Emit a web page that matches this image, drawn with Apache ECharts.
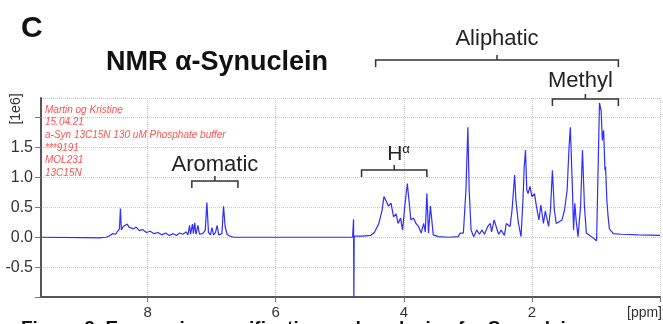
<!DOCTYPE html>
<html>
<head>
<meta charset="utf-8">
<script src="https://cdn.jsdelivr.net/npm/echarts@6/dist/echarts.min.js"></script>
<style>
html, body { margin: 0; padding: 0; background: #fff; }
#chart { width: 663px; height: 324px; }
</style>
</head>
<body>
<div id="chart"></div>
<script>
// chemical shift (ppm) and intensity ([1e6])
var shifts = [
	9.67, 9.0, 8.75, 8.65, 8.60, 8.55, 8.50, 8.47, 8.44, 8.425, 8.41, 8.38, 8.35, 8.32, 8.29, 8.26, 8.22, 8.18,
	8.13, 8.08, 8.02, 7.96, 7.90, 7.84, 7.78, 7.72, 7.66, 7.60, 7.55, 7.50, 7.45, 7.40, 7.37, 7.345, 7.33, 7.30,
	7.285, 7.265, 7.245, 7.215, 7.19, 7.14, 7.10, 7.075, 7.05, 7.02, 6.995, 6.97, 6.94, 6.915, 6.89, 6.84, 6.815,
	6.79, 6.76, 6.72, 6.66, 5.5, 4.80, 4.785, 4.78, 4.775, 4.65, 4.52, 4.46, 4.39, 4.34, 4.31, 4.29, 4.26, 4.24,
	4.20, 4.16, 4.12, 4.09, 4.05, 4.02, 3.98, 3.945, 3.92, 3.89, 3.85, 3.81, 3.77, 3.73, 3.69, 3.665, 3.64, 3.615,
	3.585, 3.56, 3.54, 3.46, 3.30, 3.15, 3.12, 3.07, 3.03, 3.00, 2.98, 2.95, 2.91, 2.86, 2.82, 2.78, 2.74, 2.69,
	2.65, 2.63, 2.59, 2.55, 2.52, 2.48, 2.43, 2.40, 2.34, 2.31, 2.27, 2.25, 2.21, 2.17, 2.14, 2.12, 2.10, 2.08,
	2.06, 2.03, 2.00, 1.96, 1.93, 1.89, 1.86, 1.82, 1.79, 1.74, 1.71, 1.68, 1.65, 1.62, 1.59, 1.53, 1.49, 1.45,
	1.42, 1.40, 1.37, 1.35, 1.33, 1.31, 1.28, 1.24, 1.21, 1.18, 1.15, 1.07, 0.99, 0.97, 0.945, 0.92, 0.90, 0.88,
	0.86, 0.85, 0.83, 0.81, 0.79, 0.73, 0.60, 0.34, 0.0
];
var intensity = [
	0.0, -0.005, -0.01, 0.0, 0.02, 0.06, 0.05, 0.10, 0.14, 0.48, 0.12, 0.18, 0.16, 0.22, 0.17, 0.20, 0.14, 0.17,
	0.11, 0.13, 0.08, 0.10, 0.06, 0.08, 0.04, 0.07, 0.03, 0.06, 0.03, 0.07, 0.05, 0.09, 0.04, 0.20, 0.05, 0.22,
	0.06, 0.24, 0.05, 0.20, 0.05, 0.06, 0.12, 0.58, 0.08, 0.04, 0.16, 0.04, 0.08, 0.20, 0.04, 0.06, 0.52,
	0.18, 0.05, 0.02, 0.0, 0.0, 0.0, 0.30, -1.2, 0.02, 0.02, 0.03, 0.08, 0.23, 0.45, 0.68, 0.69, 0.57, 0.52,
	0.57, 0.34, 0.39, 0.23, 0.32, 0.12, 0.57, 0.90, 0.62, 0.29, 0.32, 0.23, 0.18, 0.07, 0.23, 0.09, 0.73, 0.07,
	0.52, 0.54, 0.04, 0.01, 0.0, 0.01, 0.07, 0.07, 0.79, 1.84, 0.80, 0.12, 0.01, 0.12, 0.05, 0.12, 0.05, 0.18,
	0.23, 0.09, 0.29, 0.15, 0.05, 0.12, 0.03, 0.23, 0.18, 0.46, 1.04, 0.62, 0.23, 0.01, 0.62, 1.18, 1.46, 0.79,
	0.73, 0.85, 0.68, 0.73, 0.52, 0.29, 0.54, 0.23, 0.44, 0.18, 0.46, 1.12, 0.46, 0.23, 0.20, 0.29, 0.46, 0.79,
	1.51, 1.84, 0.90, 0.12, 0.57, 0.29, 0.01, 0.52, 1.46, 0.52, 0.07, 0.01, -0.06, -0.03, 2.25, 2.12, 1.62, 1.79,
	1.12, 1.18, 0.62, 0.34, 0.14, 0.06, 0.05, 0.04, 0.03
];

var xTickLabels = ['8', '6', '4', '2'];
var yTickLabels = ['-0.5', '0.0', '0.5', '1.0', '1.5'];
var sampleNotes = ['Martin og Kristine', '15.04.21', 'a-Syn 13C15N 130 uM Phosphate buffer', '***9191', 'MOL231', '13C15N'];

// assignment brackets: ppm range and label
var regionNames = ['Aliphatic', 'Methyl', 'Aromatic', 'H'];
var regionFrom = [4.44, 1.68, 7.31, 4.66];
var regionTo = [0.65, 0.65, 6.59, 3.64];

var FONT = '"Liberation Sans", Arial, sans-serif';

var chart = echarts.init(document.getElementById('chart'), null, { renderer: 'canvas' });

var spectrum = [];
for (var i = 0; i < shifts.length; i++) {
	spectrum.push([shifts[i], intensity[i]]);
}

chart.setOption({
	animation: false,
	backgroundColor: '#fff',
	grid: {
		left: 41,
		right: 1,
		top: 98,
		bottom: 27
	},
	xAxis: {
		type: 'value',
		inverse: true,
		min: 0,
		max: 9.665,
		interval: 2,
		axisLine: { onZero: false, lineStyle: { color: '#555', width: 2 } },
		axisTick: { show: true, length: 5, lineStyle: { color: '#777' } },
		axisLabel: {
			margin: 8,
			color: '#333',
			fontSize: 15,
			fontFamily: FONT,
			showMaxLabel: false,
			formatter: function (v) {
				return xTickLabels.indexOf(String(v)) >= 0 ? String(v) : '';
			}
		},
		splitLine: { show: true, lineStyle: { type: 'dotted', color: '#c8c8c8' } }
	},
	yAxis: {
		type: 'value',
		min: -1,
		max: 2.33,
		interval: 0.5,
		axisLine: { show: true, onZero: false, lineStyle: { color: '#555', width: 2 } },
		axisTick: { show: true, length: 6, lineStyle: { color: '#777' } },
		axisLabel: {
			margin: 8,
			color: '#333',
			fontSize: 16,
			fontFamily: FONT,
			showMaxLabel: false,
			formatter: function (v) {
				var s = v.toFixed(1);
				return yTickLabels.indexOf(s) >= 0 ? s : '';
			}
		},
		splitLine: { show: true, lineStyle: { type: 'dotted', color: '#c8c8c8' } }
	},
	series: [{
		type: 'line',
		data: spectrum,
		showSymbol: false,
		symbol: 'none',
		clip: true,
		lineStyle: { color: '#2e2eff', width: 1.2 }
	}]
});

// annotations: bracket x positions come from the ppm axis
function px(ppm) {
	return chart.convertToPixel({ xAxisIndex: 0 }, ppm);
}

var bracketY = [60, 99, 181, 170];
var labelY = [39, 81, 165, 154];
var graphics = [];

for (var k = 0; k < regionNames.length; k++) {
	var x1 = px(regionFrom[k]);
	var x2 = px(regionTo[k]);
	var xc = (x1 + x2) / 2;
	var by = bracketY[k];
	graphics.push({
		type: 'polyline',
		shape: { points: [[x1, by + 7], [x1, by], [x2, by], [x2, by + 7]] },
		style: { stroke: '#333', lineWidth: 1.5, fill: null }
	});
	graphics.push({
		type: 'line',
		shape: { x1: xc, y1: by, x2: xc, y2: by - 5 },
		style: { stroke: '#333', lineWidth: 1.5 }
	});
	var lx = regionNames[k] === 'Methyl' ? xc - 5 : (regionNames[k] === 'H' ? xc - 7 : xc);
	graphics.push({
		type: 'text',
		x: lx,
		y: labelY[k],
		style: {
			text: regionNames[k],
			fill: '#222',
			font: (regionNames[k] === 'H' ? '21px ' : '22px ') + FONT,
			align: regionNames[k] === 'H' ? 'left' : 'center',
			verticalAlign: 'middle'
		}
	});
	if (regionNames[k] === 'H') {
		graphics.push({
			type: 'text',
			x: lx + 15,
			y: labelY[k] - 5,
			style: { text: 'α', fill: '#222', font: '13px ' + FONT, align: 'left', verticalAlign: 'middle' }
		});
	}
}

for (var n = 0; n < sampleNotes.length; n++) {
	graphics.push({
		type: 'text',
		x: 45,
		y: 110 + n * 12.6,
		style: {
			text: sampleNotes[n],
			fill: '#ff5252',
			font: 'italic 10px ' + FONT,
			align: 'left',
			verticalAlign: 'middle'
		}
	});
}

graphics.push(
	{ type: 'text', x: 21, y: 29, style: { text: 'C', fill: '#111', font: 'bold 30px ' + FONT, verticalAlign: 'middle' } },
	{ type: 'text', x: 106, y: 63, style: { text: 'NMR α-Synuclein', fill: '#111', font: 'bold 27px ' + FONT, verticalAlign: 'middle' } },
	{ type: 'text', x: 662, y: 313, style: { text: '[ppm]', fill: '#333', font: '14px ' + FONT, align: 'right', verticalAlign: 'middle' } },
	{ type: 'text', x: 16, y: 109, rotation: Math.PI / 2, style: { text: '[1e6]', fill: '#333', font: '14px ' + FONT, align: 'center', verticalAlign: 'middle' } },
	{ type: 'text', x: 21, y: 319, z: -1, style: { text: 'Figure 2. Expression, purification and analysis of α-Synuclein', fill: '#111', font: 'bold 19px ' + FONT, verticalAlign: 'top' } }
);

chart.setOption({ graphic: graphics });
</script>
</body>
</html>
